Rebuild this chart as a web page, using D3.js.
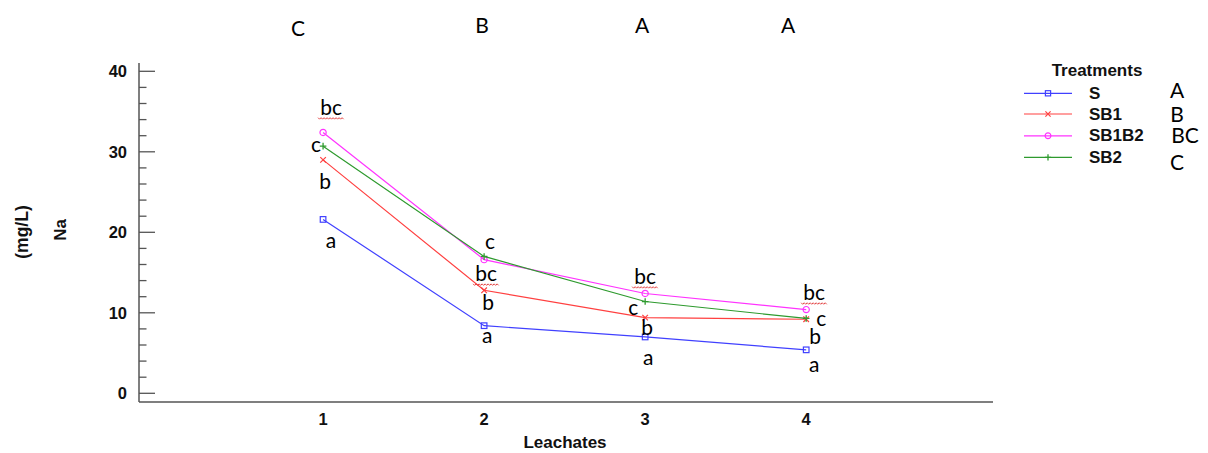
<!DOCTYPE html>
<html>
<head>
<meta charset="utf-8">
<script src="https://cdn.jsdelivr.net/npm/d3@7"></script>
<style>
  html, body { margin: 0; padding: 0; background: #fff; }
  svg { display: block; }
</style>
</head>
<body>
<svg id="chart" width="1208" height="453"></svg>
<script>
// Na concentration (mg/L) in four successive leachates, by treatment
const leachates = [1, 2, 3, 4];
const treatments = ["S", "SB1", "SB1B2", "SB2"];
const naS     = [21.6, 8.4, 7.0, 5.4];
const naSB1   = [29.0, 12.8, 9.4, 9.2];
const naSB1B2 = [32.4, 16.6, 12.4, 10.4];
const naSB2   = [30.7, 17.0, 11.4, 9.3];
const yTicks = [0, 10, 20, 30, 40];

// Significance letters within each leachate, per treatment
const lettersS     = ["a", "a", "a", "a"];
const lettersSB1   = ["b", "b", "b", "b"];
const lettersSB1B2 = ["bc", "bc", "bc", "bc"];
const lettersSB2   = ["c", "c", "c", "c"];
// Letters comparing leachates, and treatments overall
const leachateLetters = ["C", "B", "A", "A"];
const treatmentLetters = ["A", "B", "BC", "C"];

// Label placement (offsets from the point, to the text baseline)
const labelOffsets = {
  S:     [[8, 28.5], [3, 17.5], [3, 28.5], [8, 22.5]],
  SB1:   [[2, 29.5], [4, 19.5], [2, 17.5], [9, 24.5]],
  SB1B2: [[8, -17.5], [2, 21.5], [0, -9.5], [8, -9.5]],
  SB2:   [[-7, 5.5], [6, -7.5], [-12, 13.5], [15, 7.5]]
};
const topLetterDx = [-25, -2, -3, -18];
const topLetterY = [36, 33, 33, 33];

const series = [
  { name: "S",     values: naS,     letters: lettersS,     color: "#4040ff", marker: "square" },
  { name: "SB1",   values: naSB1,   letters: lettersSB1,   color: "#ff4040", marker: "cross" },
  { name: "SB1B2", values: naSB1B2, letters: lettersSB1B2, color: "#ff33ff", marker: "circle" },
  { name: "SB2",   values: naSB2,   letters: lettersSB2,   color: "#2e9a2e", marker: "plus" }
];

const svg = d3.select("#chart");
const axisFont = "'Liberation Sans', Arial, sans-serif";
const noteFont = "Lato, 'Open Sans', sans-serif";
const noteSize = 21;

const x = d3.scaleLinear().domain([-0.143, 5.16]).range([139, 993]);
const y = d3.scaleLinear().domain([0, 40]).range([393.3, 71.3]);
const axisColor = "#555";

// Axis frame: left and bottom lines
svg.append("line").attr("x1", 139).attr("x2", 139).attr("y1", 63).attr("y2", 402)
  .attr("stroke", axisColor).attr("stroke-width", 1.5);
svg.append("line").attr("x1", 139).attr("x2", 993).attr("y1", 402).attr("y2", 402)
  .attr("stroke", axisColor).attr("stroke-width", 1.5);

// Y axis: inward ticks, minor every 2
const yAxis = svg.append("g");
const minor = d3.range(0, 40.01, 2);
yAxis.selectAll("line.tick").data(minor).join("line")
  .attr("x1", 139)
  .attr("x2", d => (d % 10 === 0 ? 155 : 146.5))
  .attr("y1", d => y(d)).attr("y2", d => y(d))
  .attr("stroke", axisColor).attr("stroke-width", 1.3);
yAxis.selectAll("text").data(yTicks).join("text")
  .attr("x", 127).attr("y", d => y(d) + 6)
  .attr("text-anchor", "end")
  .attr("font-family", axisFont).attr("font-weight", "bold").attr("font-size", 16.5)
  .attr("fill", "#111").text(d => d);

// X axis labels
svg.append("g").selectAll("text").data(leachates).join("text")
  .attr("x", d => x(d)).attr("y", 425)
  .attr("text-anchor", "middle")
  .attr("font-family", axisFont).attr("font-weight", "bold").attr("font-size", 16.5)
  .attr("fill", "#111").text(d => d);

svg.append("text").attr("x", 565).attr("y", 448).attr("text-anchor", "middle")
  .attr("font-family", axisFont).attr("font-weight", "bold").attr("font-size", 17)
  .attr("fill", "#111").text("Leachates");

svg.append("text").attr("transform", "translate(66,230) rotate(-90)")
  .attr("text-anchor", "middle")
  .attr("font-family", axisFont).attr("font-weight", "bold").attr("font-size", 17)
  .attr("fill", "#111").text("Na");
svg.append("text").attr("transform", "translate(28,232) rotate(-90)")
  .attr("text-anchor", "middle")
  .attr("font-family", axisFont).attr("font-weight", "bold").attr("font-size", 17.5)
  .attr("fill", "#111").text("(mg/L)");

// Marker drawing
function drawMarker(g, type, color, r) {
  if (type === "square") {
    g.append("rect").attr("x", -r).attr("y", -r).attr("width", 2 * r).attr("height", 2 * r)
      .attr("fill", "none").attr("stroke", color).attr("stroke-width", 1.2);
  } else if (type === "circle") {
    g.append("circle").attr("r", r + 0.3).attr("fill", "none")
      .attr("stroke", color).attr("stroke-width", 1.2);
  } else if (type === "cross") {
    g.append("path").attr("d", `M${-r},${-r}L${r},${r}M${-r},${r}L${r},${-r}`)
      .attr("stroke", color).attr("stroke-width", 1.2);
  } else if (type === "plus") {
    g.append("path").attr("d", `M${-r - 0.5},0L${r + 0.5},0M0,${-r - 0.5}L0,${r + 0.5}`)
      .attr("stroke", color).attr("stroke-width", 1.3);
  }
}

const line = d3.line().x((d, i) => x(leachates[i])).y(d => y(d));

const plot = svg.append("g");
series.forEach(s => {
  plot.append("path").datum(s.values)
    .attr("d", line).attr("fill", "none")
    .attr("stroke", s.color).attr("stroke-width", 1.2);
  s.values.forEach((v, i) => {
    const g = plot.append("g").attr("transform", `translate(${x(leachates[i])},${y(v)})`);
    drawMarker(g, s.marker, s.color, 2.8);
  });
});

// Wavy underline (spell-check style) under two-letter labels
function squiggle(g, cx, baseY, w) {
  const pts = [];
  const x0 = cx - w / 2;
  for (let k = 0; k <= w; k += 1.5) {
    pts.push([x0 + k, baseY + 3 + ((Math.round(k / 1.5) % 2) ? 1.2 : -0.3)]);
  }
  g.append("path").attr("d", d3.line()(pts)).attr("fill", "none")
    .attr("stroke", "#e03030").attr("stroke-width", 0.9);
}

// Significance letters next to points
const notes = svg.append("g");
series.forEach(s => {
  s.values.forEach((v, i) => {
    const off = labelOffsets[s.name][i];
    const tx = x(leachates[i]) + off[0];
    const ty = y(v) + off[1];
    notes.append("text").attr("x", tx).attr("y", ty).attr("text-anchor", "middle")
      .attr("font-family", noteFont).attr("font-size", noteSize).attr("fill", "#000")
      .text(s.letters[i]);
    if (s.letters[i].length > 1) squiggle(notes, tx, ty, 26);
  });
});

// Letters above each leachate
svg.append("g").selectAll("text").data(leachateLetters).join("text")
  .attr("x", (d, i) => x(leachates[i]) + topLetterDx[i]).attr("y", (d, i) => topLetterY[i])
  .attr("text-anchor", "middle")
  .attr("font-family", noteFont).attr("font-size", noteSize).attr("fill", "#000")
  .text(d => d);

// Legend
const legend = svg.append("g");
legend.append("text").attr("x", 1097).attr("y", 76).attr("text-anchor", "middle")
  .attr("font-family", axisFont).attr("font-weight", "bold").attr("font-size", 17)
  .attr("fill", "#111").text("Treatments");
const legendY = [93.3, 114, 135.8, 157.3];
const letterY = [98, 122, 143, 170];
const letterX = [1177, 1177, 1185, 1177];
series.forEach((s, i) => {
  const ly = legendY[i];
  legend.append("line").attr("x1", 1024).attr("x2", 1072).attr("y1", ly).attr("y2", ly)
    .attr("stroke", s.color).attr("stroke-width", 1.2);
  drawMarker(legend.append("g").attr("transform", `translate(1048,${ly})`), s.marker, s.color, 2.6);
  legend.append("text").attr("x", 1089).attr("y", ly + 5.5)
    .attr("font-family", axisFont).attr("font-weight", "bold").attr("font-size", 17)
    .attr("fill", "#111").text(treatments[i]);
  legend.append("text").attr("x", letterX[i]).attr("y", letterY[i]).attr("text-anchor", "middle")
    .attr("font-family", noteFont).attr("font-size", noteSize).attr("fill", "#000")
    .text(treatmentLetters[i]);
});
</script>
</body>
</html>
